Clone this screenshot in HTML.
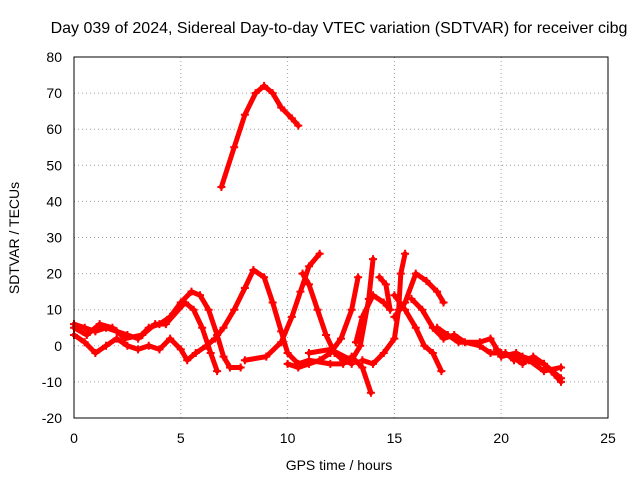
<!DOCTYPE html>
<html><head><meta charset="utf-8"><style>
body{margin:0;background:#fff}
svg{display:block;font-family:"Liberation Sans",sans-serif}
</style></head><body>
<svg id="chart" width="640" height="480" viewBox="0 0 640 480" xmlns="http://www.w3.org/2000/svg">
<rect width="640" height="480" fill="#fff"/>
<text x="339" y="33" font-size="16" text-anchor="middle" fill="#000">Day 039 of 2024, Sidereal Day-to-day VTEC variation (SDTVAR) for receiver cibg</text>
<text x="339" y="470" font-size="14" text-anchor="middle">GPS time / hours</text>
<text x="19" y="238" font-size="14" text-anchor="middle" transform="rotate(-90 19 238)">SDTVAR / TECUs</text>
<g id="grid"></g>
<g id="ticks"></g>
<g id="series"></g>
<rect x="74" y="57" width="534" height="361" fill="none" stroke="#000" stroke-width="1"/>
</svg>
<script>
const xTicks=[0,5,10,15,20,25];
const yTicks=[-20,-10,0,10,20,30,40,50,60,70,80];
const trackA=[[6.9,44],[7.5,55],[8,64],[8.5,70],[8.9,72],[9.3,70],[9.7,66],[10.2,63],[10.5,61]];
const trackB=[[0,6],[0.5,5],[1,4],[1.5,5],[2,4],[2.5,3],[3,2],[3.5,5],[4,6],[4.5,8],[5,12],[5.5,15],[5.9,14],[6.3,10],[6.7,3],[7,-3],[7.3,-6],[7.8,-6]];
const trackC=[[0,3],[0.5,1],[1,-2],[1.5,0],[2,2],[2.5,0],[3,-1],[3.5,0],[4,-1],[4.5,2],[5,-1],[5.3,-4],[5.7,-2],[6.2,0],[6.6,2],[7,5],[7.5,10],[8,16],[8.4,21],[8.9,19],[9.3,12],[9.7,4],[10,-2],[10.5,-5],[11,-4],[12,-5],[12.6,-5],[13,-3],[13.5,-6],[13.9,-13]];
const trackD=[[0,5],[0.6,3],[1.2,6],[1.8,5],[2.4,2],[3.2,3],[3.8,6],[4.3,6],[5.2,12],[5.6,10],[6,5],[6.4,-2],[6.7,-7]];
const trackE=[[8,-4],[9,-3],[9.7,1],[10.2,8],[10.6,15],[11,22],[11.5,25.5]];
const trackF=[[10.7,20],[11,17],[11.4,10],[11.8,3],[12.2,-2],[12.6,-4],[13,-5]];
const trackG=[[10,-5],[10.5,-6],[11,-5],[11.5,-4],[12,-2],[12.5,2],[13,10],[13.3,19]];
const trackH=[[11,-2],[12,-1],[13,-4],[13.4,0],[13.8,13],[14,24]];
const trackI=[[13.2,1],[13.5,8],[14,14],[14.5,12],[14.8,10],[14.6,17],[14.3,19]];
const trackJ=[[13.5,-4],[14,-5],[14.5,-2],[15,2],[15.2,10],[15.3,20],[15.5,25.5]];
const trackK=[[15,14],[15.5,10],[16,5],[16.4,0],[16.8,-2],[17.2,-7]];
const trackL=[[15,8],[15.5,12],[16,20],[16.5,18],[17,15],[17.3,12]];
const trackM=[[15.8,13],[16.3,10],[16.8,5],[17.3,2],[17.8,3],[18.3,1],[19,0],[19.5,-2],[20,-2],[20.5,-3],[21,-5],[21.5,-3],[22,-5],[22.5,-8],[22.8,-10]];
const trackN=[[17,5],[17.5,3],[18,1],[19,1],[19.5,2],[19.8,-1],[20,-3],[20.7,-2],[21.3,-4],[22,-7],[22.8,-6]];
const trackO=[[20.2,-2],[20.6,-4],[21,-3],[21.5,-4],[22,-5],[22.8,-9]];
const tracks=[trackA,trackB,trackC,trackD,trackE,trackF,trackG,trackH,trackI,trackJ,trackK,trackL,trackM,trackN,trackO];

const NS="http://www.w3.org/2000/svg";
const X=v=>74+v*(534/25);
const Y=v=>418-(v+20)*(361/100);
const grid=document.getElementById('grid'),ticks=document.getElementById('ticks'),ser=document.getElementById('series');
function mk(tag,attrs,parent){const e=document.createElementNS(NS,tag);for(const k in attrs)e.setAttribute(k,attrs[k]);parent.appendChild(e);return e;}
xTicks.forEach(t=>{
  const l=mk('line',{x1:X(t),x2:X(t),y1:57,y2:418,stroke:'#a0a0a0','stroke-dasharray':'1,3'},grid);
  
  
  const tx=mk('text',{x:X(t),y:443,'font-size':14,'text-anchor':'middle'},ticks);
  tx.textContent=t;
  
  
});
yTicks.forEach(t=>{
  const l=mk('line',{x1:74,x2:608,y1:Y(t),y2:Y(t),stroke:'#a0a0a0','stroke-dasharray':'1,3'},grid);
  
  
  const tx=mk('text',{x:62,y:Y(t)+5,'font-size':14,'text-anchor':'end'},ticks);
  tx.textContent=t;
  
  
});
tracks.forEach(tr=>{
  const p=mk('polyline',{points:tr.map(d=>X(d[0])+','+Y(d[1])).join(' '),fill:'none',stroke:'#ff0000','stroke-width':5,'stroke-linejoin':'round','stroke-linecap':'round'},ser);
  
  
  tr.forEach(d=>{
    const m=mk('path',{d:`M${X(d[0])-4},${Y(d[1])}h8M${X(d[0])},${Y(d[1])-4}v8`,stroke:'#ff0000','stroke-width':2},ser);
    
    
  });
});
</script>
</body></html>
